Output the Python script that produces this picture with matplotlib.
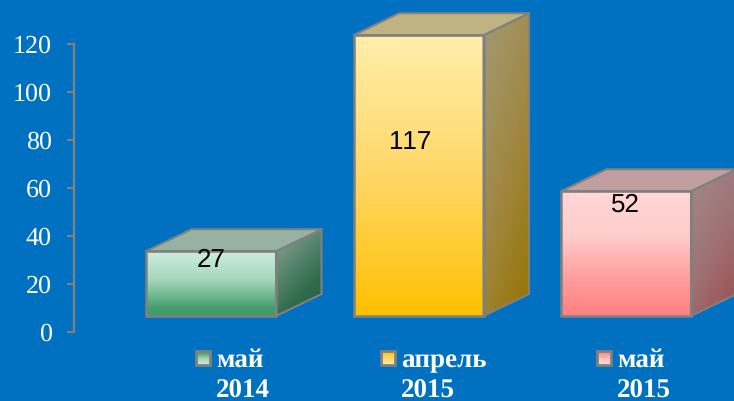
import numpy as np
import matplotlib
matplotlib.use("Agg")
import matplotlib.pyplot as plt
from matplotlib.colors import LinearSegmentedColormap, to_rgb
from matplotlib.patches import Polygon, Rectangle

plt.rcParams["text.hinting"] = "no_hinting"
plt.rcParams["text.hinting_factor"] = 1
plt.rcParams["text.kerning_factor"] = 6

# Data
categories = ["май\n2014", "апрель\n2015", "май\n2015"]
values = [27, 117, 52]
y_ticks = [0, 20, 40, 60, 80, 100, 120]

# Styles
BG = "#0070C0"
EDGE = "#808080"
front_stops = [
    [(0, "#3F9A68"), (0.12, "#459E6E"), (0.55, "#A4D6BB"), (1, "#CDEEDD")],
    [(0, "#FFC000"), (0.5, "#FFD768"), (1, "#FFEEAA")],
    [(0, "#FF8080"), (0.28, "#FF9C9C"), (0.65, "#FFCDCD"), (1, "#FFD7D7")],
]
side_stops = [
    [(0, "#235E3E"), (0.3, "#2F6A4A"), (1, "#8BA697")],
    [(0, "#977400"), (0.5, "#A08844"), (1, "#A29A74")],
    [(0, "#9B4E50"), (0.45, "#9F7072"), (1, "#A08A8B")],
]
top_colors = ["#97B2A2", "#BFB283", "#C09FA0"]
label_px = [(211, 260), (410, 142), (625, 205)]
legend_text_x = [216, 401, 617]
legend_swatch_x = [196, 381, 597]

W, H = 734, 401
PX_Y = 2.4            # pixels per unit
AX_LEFT = 74
Y0 = 332
CAT0 = 211
CAT_STEP = 207.5
BAR_W = 130 / CAT_STEP
DX = 45.5 / CAT_STEP
DY = 22 / PX_Y
BASE = 16 / PX_Y


def cmap(stops):
    return LinearSegmentedColormap.from_list("g", [(p, to_rgb(c)) for p, c in stops])


fig = plt.figure(figsize=(W / 100, H / 100), dpi=100, facecolor=BG)
ax = fig.add_axes([AX_LEFT / W, 0, 1 - AX_LEFT / W, 1], facecolor="none")
xlim = ((AX_LEFT - CAT0) / CAT_STEP, (W - CAT0) / CAT_STEP)
ylim = ((Y0 - H) / PX_Y, Y0 / PX_Y)

vgrad = np.linspace(1, 0, 128).reshape(-1, 1)
yy, xx = np.mgrid[0:1:128j, 0:1:64j]
dgrad = np.clip(1 - (0.35 * xx + 0.65 * yy), 0, 1)
dgrad = (dgrad - dgrad.min()) / (dgrad.max() - dgrad.min())

for i, v in enumerate(values):
    l, r = i - BAR_W / 2, i + BAR_W / 2
    b, t = BASE, BASE + v
    # front face
    ax.imshow(vgrad, extent=(l, r, b, t), aspect="auto", cmap=cmap(front_stops[i]),
              vmin=0, vmax=1, zorder=3, interpolation="bilinear")
    ax.add_patch(Rectangle((l, b), BAR_W, v, fc="none", ec=EDGE, lw=1.8, zorder=5))
    # side face
    side_pts = [(r, b), (r + DX, b + DY), (r + DX, t + DY), (r, t)]
    side = Polygon(side_pts, closed=True, fc="none", ec=EDGE, lw=1.5, zorder=4)
    ax.add_patch(side)
    im = ax.imshow(dgrad, extent=(r, r + DX, b, t + DY), aspect="auto", cmap=cmap(side_stops[i]),
                   vmin=0, vmax=1, zorder=3, interpolation="bilinear")
    im.set_clip_path(side)
    # top face
    ax.add_patch(Polygon([(l, t), (r, t), (r + DX, t + DY), (l + DX, t + DY)], closed=True,
                         fc=top_colors[i], ec=EDGE, lw=1.5, zorder=4))

ax.set_xlim(*xlim)
ax.set_ylim(*ylim)
for s in ("top", "right", "bottom"):
    ax.spines[s].set_visible(False)
ax.spines["left"].set_bounds(0, 120)
ax.spines["left"].set_color(EDGE)
ax.spines["left"].set_linewidth(1.6)
ax.set_xticks([])
ax.set_yticks(y_ticks)
ax.tick_params(axis="y", length=5, width=1.6, color=EDGE, pad=11, labelcolor="white")
for lab in ax.get_yticklabels():
    lab.set_fontfamily("Liberation Serif")
    lab.set_fontsize(18.5)

# overlay in pixel coordinates for value labels and legend
ov = fig.add_axes([0, 0, 1, 1], facecolor="none")
ov.set_xlim(0, W)
ov.set_ylim(H, 0)
ov.axis("off")

for v, (px, py) in zip(values, label_px):
    ov.text(px, py, str(v), ha="center", va="center", color="black",
            fontfamily="Liberation Sans", fontsize=18.5, zorder=10)

for i, cat in enumerate(categories):
    sx = legend_swatch_x[i]
    ov.imshow(vgrad, extent=(sx, sx + 14, 365, 351), aspect="auto", cmap=cmap(front_stops[i]),
              vmin=0, vmax=1, zorder=6, interpolation="bilinear", origin="lower")
    ov.add_patch(Rectangle((sx, 351), 14, 14, fc="none", ec=EDGE, lw=2, zorder=7))
    first, second = cat.split("\n")
    for line, base in ((first, 367), (second, 398)):
        ov.text(legend_text_x[i], base, line, ha="left", va="baseline", color="white",
                fontfamily="Liberation Serif", fontweight="bold", fontsize=19.5, zorder=10)
ov.set_xlim(0, W)
ov.set_ylim(H, 0)

fig.savefig("out.png", dpi=100, facecolor=BG)
